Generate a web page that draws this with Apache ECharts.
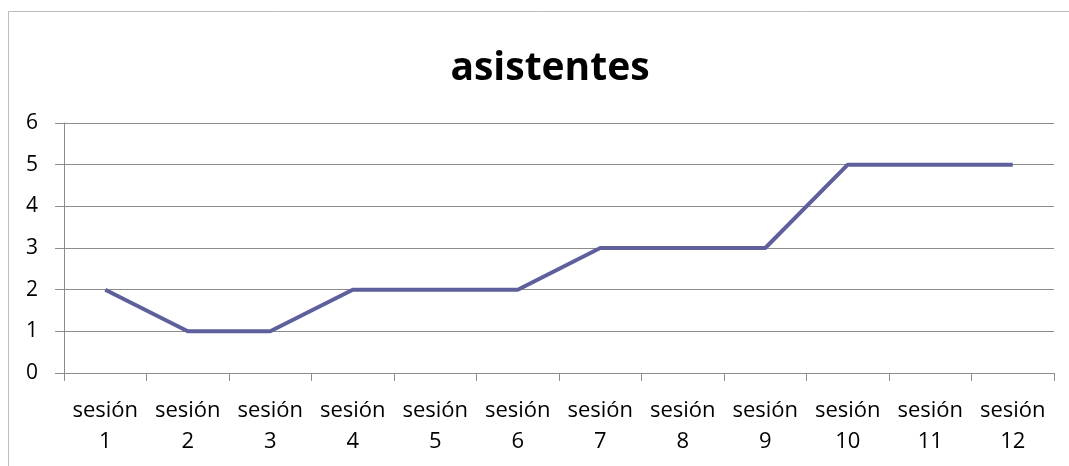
<!DOCTYPE html>
<html><head><meta charset="utf-8">
<script src="https://cdn.jsdelivr.net/npm/echarts@6/dist/echarts.min.js"></script>
<style>html,body{margin:0;padding:0;background:#fff}#c{width:1069px;height:466px}</style>
</head><body><div id="c"></div>
<script>
const categories = ['sesión\n1','sesión\n2','sesión\n3','sesión\n4','sesión\n5','sesión\n6','sesión\n7','sesión\n8','sesión\n9','sesión\n10','sesión\n11','sesión\n12'];
const asistentes = [2,1,1,2,2,2,3,3,3,5,5,5];
const yTicks = {min:0, max:6, interval:1};
const chart = echarts.init(document.getElementById('c'));
const font = 'Open Sans';
chart.setOption({
  animation:false,
  graphic:[{type:'rect', shape:{x:8.5,y:11.5,width:1100,height:500}, style:{fill:'none', stroke:'#bdbdbd', lineWidth:1}, silent:true}],
  title:{text:'asistentes', left:545, top:44, textAlign:'center', textStyle:{fontFamily:font, fontWeight:'bold', fontSize:39, color:'#000'}},
  grid:{left:64, right:15, top:123, bottom:93, containLabel:false},
  xAxis:{type:'category', data:categories, boundaryGap:true,
    axisLine:{lineStyle:{color:'#8c8c8c', width:1}},
    axisTick:{show:true, length:8, lineStyle:{color:'#8c8c8c'}},
    axisLabel:{color:'#000', fontFamily:font, fontSize:22, lineHeight:31, margin:22, interval:0}},
  yAxis:{type:'value', min:yTicks.min, max:yTicks.max, interval:yTicks.interval,
    axisLine:{show:true, lineStyle:{color:'#8c8c8c', width:1}},
    axisTick:{show:true, length:9, lineStyle:{color:'#8c8c8c'}},
    axisLabel:{color:'#000', fontFamily:font, fontSize:21, margin:26},
    splitLine:{show:true, lineStyle:{color:'#8c8c8c', width:1}}},
  series:[{type:'line', data:asistentes, symbol:'none', lineStyle:{color:'#5f5f9b', width:4}}]
});
</script></body></html>
